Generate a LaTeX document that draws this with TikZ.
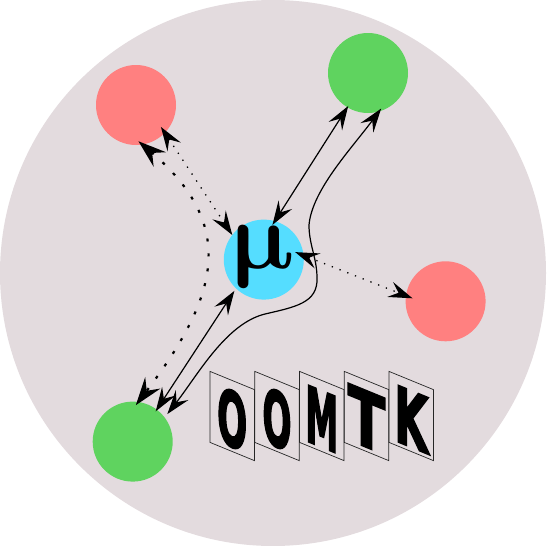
\documentclass[tikz,border=0pt]{standalone}
\usepackage{fontspec}
\usepackage{graphicx}
\usetikzlibrary{arrows.meta,calc}
\newfontfamily\cardfont{DejaVu Sans}[FakeBold=3]
\definecolor{bgcol}{HTML}{E3DBDE}
\definecolor{redc}{HTML}{FF8080}
\definecolor{greenc}{HTML}{5FD35F}
\definecolor{cyanc}{HTML}{55DDFF}
\tikzset{
  ball/.style={circle, minimum size=80pt, inner sep=0pt, outer sep=0pt},
  tipA/.tip={Stealth[length=24pt,width=16pt,inset=9pt]},
  tipB/.tip={Stealth[length=28pt,width=19pt,inset=10pt]},
  sline/.style={line width=1.2pt, tipA-tipA},
  fdot/.style={line width=1.3pt, dash pattern=on 1.3pt off 7pt, tipA-tipA},
  tdot/.style={line width=2.2pt, dash pattern=on 3pt off 12pt, tipB-tipB},
  card/.style={draw=black!85, line width=0.7pt, minimum width=44.5pt, minimum height=71pt, inner sep=0pt, yslant=-0.41, text height=62pt, font=\cardfont\bfseries},
  mulabel/.style={inner sep=0pt, xslant=-0.25},
}
\begin{document}
\begin{tikzpicture}[x=1pt,y=-1pt]
\useasboundingbox (0,0) rectangle (546,546);
\node[circle, fill=bgcol, minimum size=546pt, inner sep=0pt] (bg) at (273,273) {};
\node[ball, fill=redc] (R1) at (136,105) {};
\node[ball, fill=greenc] (G1) at (368,73) {};
\node[ball, fill=cyanc] (C) at (263.8,259.6) {};
\node[mulabel, anchor=base] (mu) at (264,268) {\scalebox{9.6}{\boldmath$\mu$}};
\node[ball, fill=redc] (R2) at (445.6,301.3) {};
\node[ball, fill=greenc] (G2) at (132.7,441.6) {};
% connectors
\draw[fdot, shorten <=-7pt] (R1.-44.5) -- (C.142.7);
\draw[tdot, shorten <=-5pt, shorten >=-4pt] (R1.-81.7) .. controls (239,227) and (217,298) .. (G2.82);
\draw[sline, shorten <=3pt, shorten >=-2pt] (C.-134) -- (G2.53.8);
\draw[sline, shorten <=-4.5pt, shorten >=-1.6pt] (C.74.8) -- (G1.-121.9);
\draw[sline, shorten <=-3.6pt, shorten >=4.4pt] (G1.-74) .. controls (352,148) and (312,190) .. (309,225)
   .. controls (309,245) and (317,258) .. (317,278)
   .. controls (318,303) and (295,307) .. (265,314)
   .. controls (226,323.6) and (198,374.6) .. (G2.37.4);
\draw[fdot, shorten <=-9pt, shorten >=-7pt] (C.6.7) -- (R2.172.5);
% cards
\node[card] (k1) at (232.2,416) {\resizebox{30pt}{56pt}{O}};
\node[card] (k2) at (277,416) {\resizebox{29pt}{56pt}{O}};
\node[card] (k3) at (321.8,416) {\resizebox{33pt}{56pt}{M}};
\node[card] (k4) at (366.5,416) {\resizebox{37pt}{56pt}{T}};
\node[card] (k5) at (411.2,416) {\resizebox{34pt}{56pt}{K}};
\end{tikzpicture}
\end{document}
